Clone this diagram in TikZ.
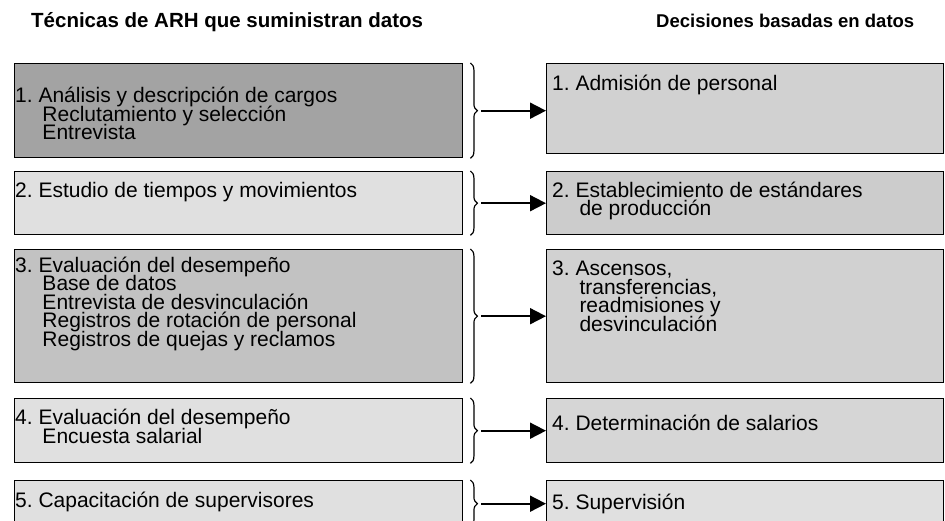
\documentclass[tikz,border=0pt]{standalone}
\usepackage{fontspec}
\setmainfont{Liberation Sans}
\usepackage{tikz}
\usetikzlibrary{arrows.meta,decorations.pathreplacing}
\setlength{\lineskiplimit}{-50pt}
\frenchspacing
\newcommand{\indl}{\hspace*{1.3em}}

\begin{document}
\begin{tikzpicture}[
  x=1pt, y=1pt,
  font=\fontsize{21}{18.5}\selectfont,
  box/.style ={draw, line width=1.4pt, inner sep=0pt, anchor=north west},
  lbox/.style={box, minimum width=448pt},
  rbox/.style={box, minimum width=397pt},
  txt/.style ={anchor=base west, align=left, inner sep=0pt},   % base = last line
  head/.style={anchor=base west, inner sep=0pt,
               font=\bfseries\fontsize{20.5}{22}\selectfont},
  brc/.style ={decorate, decoration={brace, amplitude=7pt}, line width=1.2pt},
  ar/.style  ={-{Triangle[length=16pt, width=16pt]}, line width=1.8pt}
]
\useasboundingbox (0,0) rectangle (945,-521);

\node[head] (hl) at (31,-28) {Técnicas de ARH que suministran datos};
\node[head, font=\bfseries\fontsize{18.5}{20}\selectfont] (hr) at (656,-28)
  {Decisiones basadas en datos};

% left column
\node[lbox, fill=black!36, minimum height=94pt]  (l1) at (14,-63)  {};
\node[lbox, fill=black!12, minimum height=63pt]  (l2) at (14,-171) {};
\node[lbox, fill=black!24, minimum height=133pt] (l3) at (14,-249) {};
\node[lbox, fill=black!12, minimum height=64pt]  (l4) at (14,-398) {};
\node[lbox, fill=black!12, minimum height=46pt]  (l5) at (14,-480) {};

\node[txt] (lt1) at (15,-140)
  {1. Análisis y descripción de cargos\\\indl Reclutamiento y selección\\\indl Entrevista};
\node[txt] (lt2) at (15,-198) {2. Estudio de tiempos y movimientos};
\node[txt] (lt3) at (15,-346)
  {3. Evaluación del desempeño\\\indl Base de datos\\\indl Entrevista de desvinculación\\
   \indl Registros de rotación de personal\\\indl Registros de quejas y reclamos};
\node[txt] (lt4) at (15,-443) {4. Evaluación del desempeño\\\indl Encuesta salarial};
\node[txt] (lt5) at (15,-507) {5. Capacitación de supervisores};

% right column
\node[rbox, fill=black!18, minimum height=90pt]  (r1) at (546,-63)  {};
\node[rbox, fill=black!20, minimum height=63pt]  (r2) at (546,-171) {};
\node[rbox, fill=black!18, minimum height=133pt] (r3) at (546,-249) {};
\node[rbox, fill=black!16, minimum height=64pt]  (r4) at (546,-398) {};
\node[rbox, fill=black!12, minimum height=46pt]  (r5) at (546,-480) {};

\node[txt] (rt1) at (552,-91)  {1. Admisión de personal};
\node[txt] (rt2) at (552,-216) {2. Establecimiento de estándares\\\indl de producción};
\node[txt] (rt3) at (552,-331)
  {3. Ascensos,\\\indl transferencias,\\\indl readmisiones y\\\indl desvinculación};
\node[txt] (rt4) at (552,-430) {4. Determinación de salarios};
\node[txt] (rt5) at (552,-509) {5. Supervisión};

% braces and arrows
\foreach \i in {1,...,5}{
  \draw[brc] ([xshift=7pt]l\i.north east) -- ([xshift=7pt]l\i.south east);
  \draw[ar] ([xshift=18pt]l\i.east) -- (r\i.west |- l\i.east);
}

\end{tikzpicture}
\end{document}
